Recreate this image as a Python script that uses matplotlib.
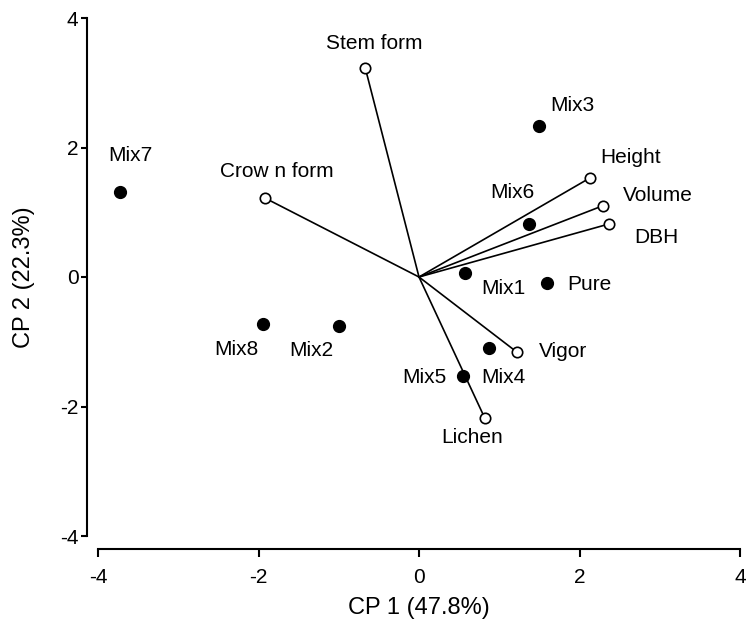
import numpy as np
import matplotlib.pyplot as plt

plt.rcParams['font.family'] = ['Liberation Sans', 'DejaVu Sans']
plt.rcParams['axes.unicode_minus'] = False

# treatment scores (filled dots)
mix_names = ['Mix7', 'Mix3', 'Mix6', 'Mix1', 'Pure', 'Mix8', 'Mix2', 'Mix4', 'Mix5']
mix_x = [-3.73, 1.50, 1.37, 0.57, 1.60, -1.94, -1.00, 0.87, 0.55]
mix_y = [1.31, 2.33, 0.82, 0.06, -0.09, -0.73, -0.76, -1.10, -1.53]

# variable loadings (open circles with vectors from origin)
var_names = ['Stem form', 'Crow n form', 'Height', 'Volume', 'DBH', 'Vigor', 'Lichen']
var_x = [-0.67, -1.92, 2.13, 2.29, 2.37, 1.22, 0.82]
var_y = [3.23, 1.22, 1.53, 1.10, 0.82, -1.16, -2.18]

# label offsets in pixels (dx right, dy up)
mix_off = [(11, 37), (33, 21), (-17, 31), (39, -15), (42, -2),
           (-27, -25), (-27, -24), (15, -29), (-39, -1)]
var_off = [(9, 24), (12, 27), (41, 20), (55, 10), (47, -14), (46, 1), (-13, -19)]

fig = plt.figure(figsize=(7.46, 6.22), dpi=100)
ax = fig.add_axes([98 / 746, 86 / 622, 642 / 746, 518 / 622])

for x, y in zip(var_x, var_y):
    ax.plot([0, x], [0, y], color='black', lw=1.2, zorder=2)
ax.plot(var_x, var_y, 'o', ms=7.5, mfc='white', mec='black', mew=1.2, zorder=3)
ax.plot(mix_x, mix_y, 'o', ms=8.5, color='black', zorder=3)

for name, x, y, off in zip(mix_names, mix_x, mix_y, mix_off):
    ax.annotate(name, (x, y), xytext=off, textcoords='offset pixels',
                ha='center', va='center', fontsize=15)
for name, x, y, off in zip(var_names, var_x, var_y, var_off):
    ax.annotate(name, (x, y), xytext=off, textcoords='offset pixels',
                ha='center', va='center', fontsize=15)

ax.set_xlim(-4, 4)
ax.set_ylim(-4, 4)
ax.set_xticks([-4, -2, 0, 2, 4])
ax.set_yticks([-4, -2, 0, 2, 4])
ax.spines['top'].set_visible(False)
ax.spines['right'].set_visible(False)
ax.spines['left'].set_position(('outward', 8))
ax.spines['bottom'].set_position(('outward', 9))
for s in ['left', 'bottom']:
    ax.spines[s].set_linewidth(1.5)
ax.tick_params(axis='x', width=1.5, length=6, labelsize=15, pad=8)
ax.tick_params(axis='y', width=1.5, length=4, labelsize=15, pad=2)
ax.set_xlabel('CP 1 (47.8%)', fontsize=17, labelpad=7)
ax.set_ylabel('CP 2 (22.3%)', fontsize=17, labelpad=18)

fig.savefig('out.png', dpi=100)
